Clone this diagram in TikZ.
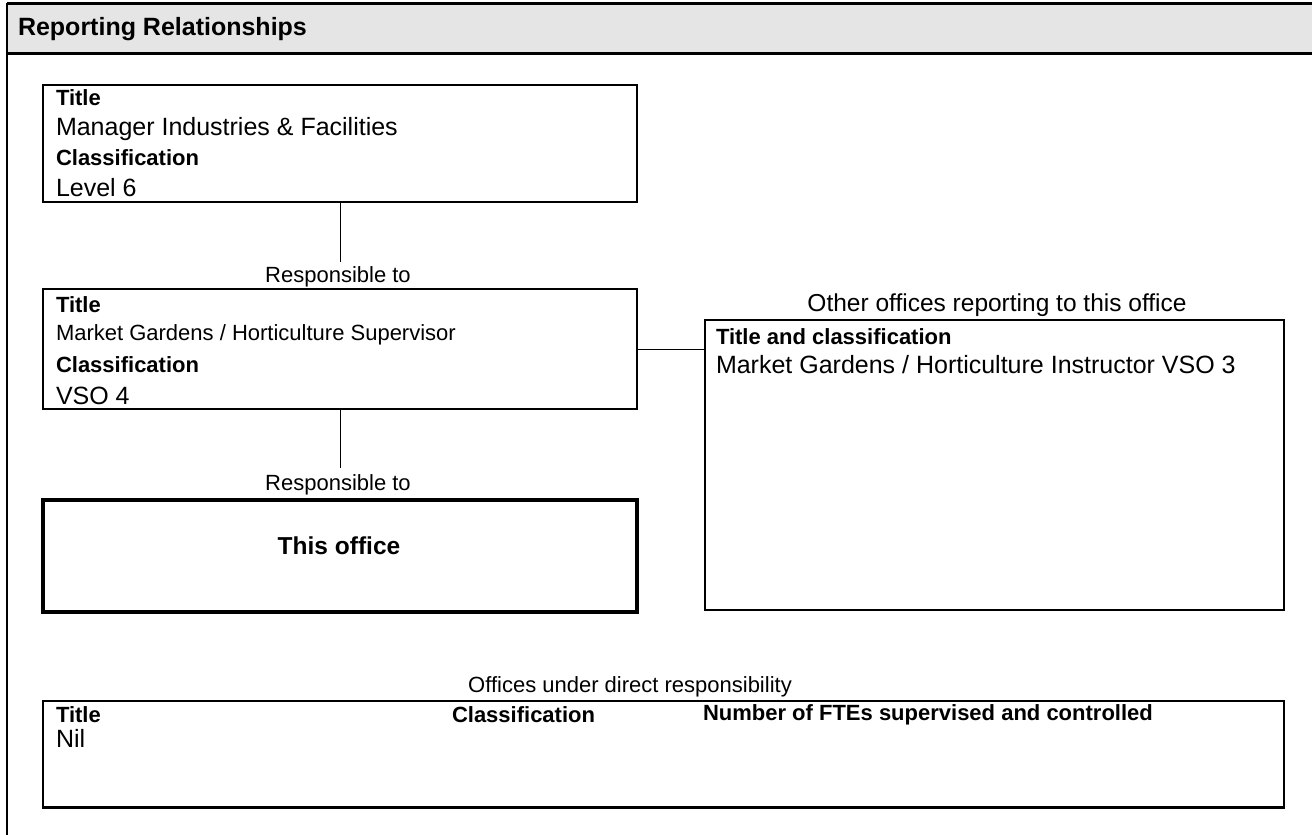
\documentclass[tikz,border=0pt]{standalone}
\usepackage{fontspec}
\setmainfont{Liberation Sans}
\usetikzlibrary{positioning}

\definecolor{headColor}{gray}{0.90}
\tikzset{
  box/.style={draw=black,line width=1.2pt,inner sep=0pt,outer sep=0pt,anchor=north west},
  thisbox/.style={box,line width=3.5pt},
  lbl/.style={inner sep=0pt,outer sep=0pt,anchor=west,font=\fontsize{25}{29}\selectfont},
  hdr/.style={lbl,font=\fontsize{22}{26}\selectfont\bfseries},
  caption/.style={inner sep=0pt,outer sep=0pt,font=\fontsize{22}{26}\selectfont},
  link/.style={draw=black,line width=0.9pt}
}

\begin{document}
\begin{tikzpicture}[x=1pt,y=1pt]
\path[use as bounding box,fill=white] (0,0) rectangle (1312,835);

% header band
\path[fill=headColor] (7,781) rectangle (1312,831);
\path[draw=black,line width=3pt] (7,831) -- (1312,831);
\path[draw=black,line width=3pt] (7,781) -- (1312,781);
\path[draw=black,line width=1.2pt] (7,832) -- (7,0);
\node[hdr,font=\fontsize{25}{29}\selectfont\bfseries] (heading) at (18,806) {Reporting Relationships};

% manager
\node[box,minimum width=594pt,minimum height=117pt] (mgr) at (43,750) {};
\node[hdr] (mgrT) at (56,737) {Title};
\node[lbl] (mgrN) at (56,706) {Manager Industries \& Facilities};
\node[hdr] (mgrC) at (56,677) {Classification};
\node[lbl] (mgrL) at (56,647) {Level 6};

\node[caption] (resp1) at (338,558) {Responsible to};
\draw[link] (mgr.south) -- (mgr.south |- 0,573);

% supervisor
\node[box,minimum width=594pt,minimum height=120pt] (sup) at (43,546) {};
\node[hdr] (supT) at (56,530) {Title};
\node[lbl,font=\fontsize{22}{26}\selectfont] (supN) at (56,500) {Market Gardens / Horticulture Supervisor};
\node[hdr] (supC) at (56,470) {Classification};
\node[lbl] (supL) at (56,439) {VSO 4};

\node[caption] (resp2) at (338,350) {Responsible to};
\draw[link] (sup.south) -- (sup.south |- 0,367);

% this office
\node[thisbox,minimum width=594pt,minimum height=112pt] (self) at (43,335) {};
\node[caption,font=\fontsize{24.5}{28}\selectfont\bfseries] (selfT) at (339,289) {This office};

% other offices
\node[caption,font=\fontsize{24.5}{28}\selectfont] (otherCap) at (997,530) {Other offices reporting to this office};
\node[box,minimum width=579pt,minimum height=290pt] (other) at (705,515) {};
\node[hdr] (otherT) at (716,498) {Title and classification};
\node[lbl] (otherN) at (716,470) {Market Gardens / Horticulture Instructor VSO 3};
\draw[link] (sup.east) -- (other.west |- sup.east);

% offices under direct responsibility
\node[caption] (underCap) at (630,148) {Offices under direct responsibility};
\node[box,minimum width=1241pt,minimum height=107pt] (under) at (43,134) {};
\path[draw=black,line width=3pt] (under.south west) -- (under.south east);
\node[hdr] (underT) at (56,120) {Title};
\node[hdr] (underC) at (452,120) {Classification};
\node[hdr] (underF) at (703,120) {Number of FTEs supervised and controlled};
\node[lbl] (underN) at (56,97) {Nil};
\end{tikzpicture}
\end{document}
